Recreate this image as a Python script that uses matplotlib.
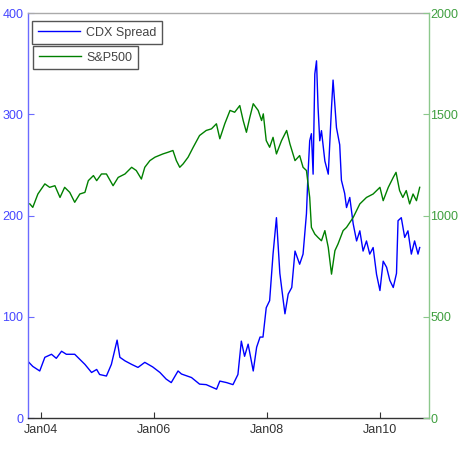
import pandas as pd
import matplotlib
matplotlib.use("Agg")
import matplotlib.pyplot as plt
import matplotlib.dates as mdates

plt.rcParams["font.family"] = ["Liberation Sans", "DejaVu Sans"]

# CDX spread (bp)
cdx_dates = ["2003-10-16", "2003-11-10", "2003-12-25", "2004-01-27", "2004-03-10", "2004-04-10",
             "2004-05-14", "2004-06-14", "2004-08-07", "2004-09-09", "2004-10-12", "2004-11-24",
             "2004-12-27", "2005-01-15", "2005-02-28", "2005-04-01", "2005-05-08", "2005-05-26",
             "2005-06-28", "2005-08-10", "2005-09-20", "2005-11-03", "2005-12-24", "2006-02-09",
             "2006-03-21", "2006-04-23", "2006-06-06", "2006-06-28", "2006-09-01", "2006-10-23",
             "2006-12-05", "2007-02-10", "2007-03-03", "2007-04-16", "2007-05-27", "2007-06-28",
             "2007-07-20", "2007-08-10", "2007-09-02", "2007-10-05", "2007-10-27", "2007-11-18",
             "2007-12-07", "2007-12-28", "2008-01-19", "2008-02-10", "2008-03-03", "2008-03-25",
             "2008-04-16", "2008-04-27", "2008-05-18", "2008-06-10", "2008-07-01", "2008-07-31",
             "2008-08-22", "2008-09-13", "2008-09-23", "2008-10-04", "2008-10-15", "2008-10-26",
             "2008-11-06", "2008-11-17", "2008-11-27", "2008-12-08", "2008-12-19", "2009-01-10",
             "2009-02-01", "2009-02-22", "2009-03-04", "2009-03-26", "2009-04-16", "2009-04-27",
             "2009-05-18", "2009-05-30", "2009-06-20", "2009-07-12", "2009-08-03", "2009-08-24",
             "2009-09-14", "2009-10-06", "2009-10-27", "2009-11-18", "2009-12-10", "2010-01-01",
             "2010-01-22", "2010-02-13", "2010-03-06", "2010-03-28", "2010-04-18", "2010-04-28",
             "2010-05-19", "2010-06-10", "2010-07-01", "2010-07-23", "2010-08-13", "2010-09-04",
             "2010-09-15"]
cdx_values = [55, 51, 46.5, 60, 63, 59,
              66, 63, 63, 58, 53, 45,
              48, 43, 41.5, 53, 77, 60,
              56.5, 53, 50, 55, 50.5, 45,
              38.5, 35, 46.5, 43.5, 40, 33.5,
              33, 28.5, 36.5, 35, 33, 43,
              76, 61, 73, 46.5, 70, 80,
              80, 109, 116, 162, 198, 143,
              116, 103, 122.5, 129, 165, 152,
              162, 202, 241, 274, 281, 241,
              340, 353, 307, 274, 284, 254,
              241, 307, 334, 287, 270, 235,
              222, 208, 218, 192, 175, 185,
              165, 175, 162, 168.5, 142, 126,
              155, 149, 136, 129, 143, 195,
              198, 178.5, 185, 162, 175, 162,
              168.5]

# S&P500 level
spx_dates = ["2003-10-22", "2003-11-10", "2003-12-13", "2004-01-27", "2004-02-27", "2004-04-01",
             "2004-05-04", "2004-06-03", "2004-07-06", "2004-08-07", "2004-09-09", "2004-10-12",
             "2004-11-03", "2004-12-06", "2004-12-27", "2005-01-27", "2005-02-28", "2005-04-12",
             "2005-05-15", "2005-06-28", "2005-08-10", "2005-09-09", "2005-10-12", "2005-11-03",
             "2005-12-06", "2006-01-08", "2006-02-28", "2006-04-01", "2006-05-04", "2006-05-26",
             "2006-06-17", "2006-07-09", "2006-08-10", "2006-09-12", "2006-10-23", "2006-12-05",
             "2007-01-08", "2007-02-09", "2007-03-03", "2007-04-04", "2007-05-08", "2007-06-07",
             "2007-07-10", "2007-08-01", "2007-08-22", "2007-09-13", "2007-10-05", "2007-11-06",
             "2007-11-28", "2007-12-09", "2007-12-28", "2008-01-19", "2008-02-10", "2008-03-03",
             "2008-04-05", "2008-05-08", "2008-05-29", "2008-07-01", "2008-07-31", "2008-08-22",
             "2008-09-13", "2008-10-04", "2008-10-15", "2008-11-06", "2008-11-27", "2008-12-19",
             "2009-01-10", "2009-02-01", "2009-02-22", "2009-03-16", "2009-04-05", "2009-05-08",
             "2009-05-30", "2009-07-12", "2009-08-24", "2009-10-06", "2009-11-18", "2010-01-01",
             "2010-01-22", "2010-02-24", "2010-03-28", "2010-04-15", "2010-05-08", "2010-05-29",
             "2010-06-20", "2010-07-12", "2010-08-03", "2010-08-25", "2010-09-15"]
spx_values = [1058, 1041, 1107, 1157, 1140, 1148,
              1090, 1140, 1115, 1066, 1107, 1115,
              1173, 1198, 1173, 1206, 1206, 1148,
              1189, 1206, 1239, 1223, 1181, 1239,
              1272, 1289, 1305, 1313, 1322, 1272,
              1239, 1256, 1289, 1338, 1396, 1421,
              1429, 1454, 1380, 1454, 1520, 1511,
              1544, 1470, 1412, 1486, 1553, 1520,
              1470, 1503, 1371, 1338, 1387, 1305,
              1371, 1421, 1355, 1272, 1297, 1239,
              1223, 1090, 942, 909, 892, 876,
              926, 843, 711, 827, 860, 926,
              942, 991, 1058, 1090, 1107, 1140,
              1074, 1140, 1189, 1214, 1124, 1090,
              1124, 1058, 1107, 1074, 1140]

cdx_dates = pd.to_datetime(cdx_dates)
spx_dates = pd.to_datetime(spx_dates)

blue_axis = "#6b6bff"
blue_text = "#4646ff"
green_axis = "#8cc88c"
green_text = "#3f9f3f"

fig = plt.figure(figsize=(4.59, 4.49), dpi=100)
ax = fig.add_axes([0.0603, 0.0690, 0.8743, 0.9014])
ax2 = ax.twinx()

l1, = ax.plot(cdx_dates, cdx_values, color="#0000ff", lw=1.0, label="CDX Spread")
l2, = ax2.plot(spx_dates, spx_values, color="#008000", lw=1.0, label="S&P500")

ax.set_ylim(0, 400)
ax2.set_ylim(0, 2000)
ax.set_yticks([0, 100, 200, 300, 400])
ax2.set_yticks([0, 500, 1000, 1500, 2000])
ax.set_xlim(pd.Timestamp("2003-10-08"), pd.Timestamp("2010-11-14"))
ax.set_xticks(pd.to_datetime(["2004-01-01", "2006-01-01", "2008-01-01", "2010-01-01"]))
ax.xaxis.set_major_formatter(mdates.DateFormatter("%b%y"))

ax.tick_params(axis="y", direction="in", length=4, width=0.8, color=blue_axis,
               labelcolor=blue_text, labelsize=9, pad=3)
ax.tick_params(axis="x", direction="in", length=4, width=0.8, color="#333333",
               labelcolor="#333333", labelsize=9, pad=4)
ax2.tick_params(axis="y", direction="in", length=4, width=0.8, color=green_axis,
                labelcolor=green_text, labelsize=9, pad=1)

ax.spines["left"].set_color(blue_axis)
ax.spines["top"].set_color("#aaaaaa")
ax.spines["bottom"].set_color("#333333")
ax.spines["right"].set_visible(False)
ax2.spines["right"].set_color(green_axis)
for s in ["left", "top", "bottom"]:
    ax2.spines[s].set_visible(False)
for s in ax.spines.values():
    s.set_linewidth(1.0)
ax2.spines["right"].set_linewidth(1.0)

leg_kw = dict(loc="upper left", fontsize=9, frameon=True, fancybox=False, framealpha=1,
              edgecolor="#555555", handlelength=3.4, handletextpad=0.45, borderpad=0.45,
              borderaxespad=0)
leg1 = ax.legend(handles=[l1], bbox_to_anchor=(0.011, 0.981), **leg_kw)
leg2 = ax2.legend(handles=[l2], bbox_to_anchor=(0.013, 0.919), **leg_kw)
for leg in (leg1, leg2):
    leg.get_frame().set_linewidth(1.0)
    for t in leg.get_texts():
        t.set_color("#444444")

fig.savefig("out.png", dpi=100)
